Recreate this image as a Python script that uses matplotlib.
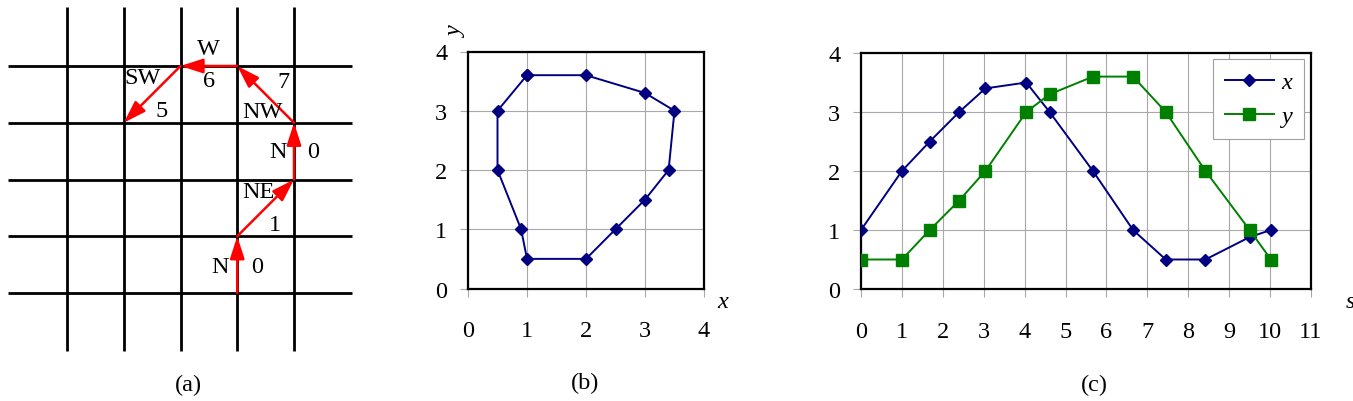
import matplotlib
matplotlib.use("Agg")
import matplotlib.pyplot as plt

plt.rcParams['font.family'] = ['Liberation Serif', 'DejaVu Serif']

# ---------------- data ----------------
# (a) chain code path on grid
grid_lines = [1, 2, 3, 4, 5]
path_x = [4, 4, 5, 5, 4, 3, 2]
path_y = [1, 2, 3, 4, 5, 5, 4]
dir_names = ["N", "NE", "N", "NW", "W", "SW"]
dir_codes = ["0", "1", "0", "7", "6", "5"]

# (b) contour
contour_x = [1, 2, 3, 3.5, 3.4, 3, 2.5, 2, 1, 0.9, 0.5, 0.5, 1]
contour_y = [3.6, 3.6, 3.3, 3, 2, 1.5, 1, 0.5, 0.5, 1, 2, 3, 3.6]

# (c) coordinates vs arc length
s_vals = [0, 1, 1.68, 2.40, 3.04, 4.04, 4.61, 5.67, 6.65, 7.45, 8.42, 9.50, 10.02]
x_vals = [1, 2, 2.5, 3, 3.4, 3.5, 3, 2, 1, 0.5, 0.5, 0.88, 1]
y_vals = [0.5, 0.5, 1, 1.5, 2, 3, 3.3, 3.6, 3.6, 3, 2, 1, 0.5]

b_ticks = [0, 1, 2, 3, 4]
c_xticks = list(range(0, 12))
c_yticks = [0, 1, 2, 3, 4]

NAVY = '#000080'
GREEN = '#008000'
FS = 17.5

W, H = 1353, 402
fig = plt.figure(figsize=(W / 100, H / 100), dpi=100)

def px_axes(l, t, r, b):
    return fig.add_axes([l / W, 1 - b / H, (r - l) / W, (b - t) / H])

# ---------------- (a) ----------------
axa = px_axes(10.25, 10.25, 350.75, 350.75)
axa.set_xlim(0, 6)
axa.set_ylim(0, 6)
axa.axis('off')
for g in grid_lines:
    axa.plot([-0.04, 6.03], [g, g], color='black', lw=2.0, clip_on=False, solid_capstyle='butt')
    axa.plot([g, g], [-0.03, 6.04], color='black', lw=2.0, clip_on=False, solid_capstyle='butt')
for i in range(len(path_x) - 1):
    axa.annotate('', xy=(path_x[i + 1], path_y[i + 1]), xytext=(path_x[i], path_y[i]),
                 arrowprops=dict(arrowstyle='-|>,head_length=0.68,head_width=0.22', color='red', lw=1.8,
                                 mutation_scale=20, shrinkA=0, shrinkB=0), zorder=5)
name_pos = [(3.70, 1.47), (4.37, 2.78), (4.72, 3.50), (4.44, 4.19), (3.50, 5.30), (2.34, 4.79)]
code_pos = [(4.35, 1.47), (4.66, 2.21), (5.33, 3.50), (4.81, 4.72), (3.50, 4.74), (2.66, 4.22)]
for name, code, pn, pc in zip(dir_names, dir_codes, name_pos, code_pos):
    axa.text(pn[0], pn[1], name, fontsize=FS, ha='center', va='center', zorder=6)
    axa.text(pc[0], pc[1], code, fontsize=FS, ha='center', va='center', zorder=6)
fig.text(188 / W, 1 - 385 / H, '(a)', fontsize=FS, ha='center', va='center')

def style_axes(ax):
    for sp in ax.spines.values():
        sp.set_linewidth(1.6)
        sp.set_color('black')
    ax.grid(True, color='#a8a8a8', lw=0.8)
    ax.set_axisbelow(True)
    ax.tick_params(axis='both', direction='out', length=6, width=0.8, color='#a8a8a8',
                   labelsize=FS)
    ax.tick_params(axis='x', pad=17)
    ax.tick_params(axis='y', pad=9)

# ---------------- (b) ----------------
axb = px_axes(468, 52.5, 704, 289.5)
axb.plot(contour_x, contour_y, color=NAVY, lw=1.4, marker='D', markersize=6.4,
         markerfacecolor=NAVY, markeredgecolor=NAVY, clip_on=False, zorder=3)
axb.set_xlim(0, 4)
axb.set_ylim(0, 4)
axb.set_xticks(b_ticks)
axb.set_yticks(b_ticks)
style_axes(axb)
fig.text(723 / W, 1 - 303 / H, 'x', fontsize=FS, style='italic', ha='center', va='center')
fig.text(457 / W, 1 - 33 / H, 'y', fontsize=FS, style='italic', ha='center', va='center', rotation=90)
fig.text(585 / W, 1 - 383 / H, '(b)', fontsize=FS, ha='center', va='center')

# ---------------- (c) ----------------
axc = px_axes(861, 54, 1311, 290)
axc.plot(s_vals, x_vals, color=NAVY, lw=1.4, marker='D', markersize=6.4,
         markerfacecolor=NAVY, markeredgecolor=NAVY, label='x', zorder=3)
axc.plot(s_vals, y_vals, color=GREEN, lw=1.4, marker='s', markersize=9,
         markerfacecolor=GREEN, markeredgecolor=GREEN, label='y', zorder=3)
axc.set_xlim(0, 11)
axc.set_ylim(0, 4)
axc.set_xticks(c_xticks)
axc.set_yticks(c_yticks)
style_axes(axc)
leg = axc.legend(loc='upper left', bbox_to_anchor=(0.782, 0.975),
                 prop={'style': 'italic', 'size': FS}, frameon=True, fancybox=False,
                 edgecolor='#a0a0a0', framealpha=1, handlelength=2.0, handletextpad=0.3,
                 labelspacing=0.5, borderpad=0.5, borderaxespad=0)
leg.get_frame().set_linewidth(0.8)
fig.text(1350 / W, 1 - 303 / H, 's', fontsize=FS, style='italic', ha='center', va='center')
fig.text(1094 / W, 1 - 385 / H, '(c)', fontsize=FS, ha='center', va='center')

fig.savefig('out.png', dpi=100)
